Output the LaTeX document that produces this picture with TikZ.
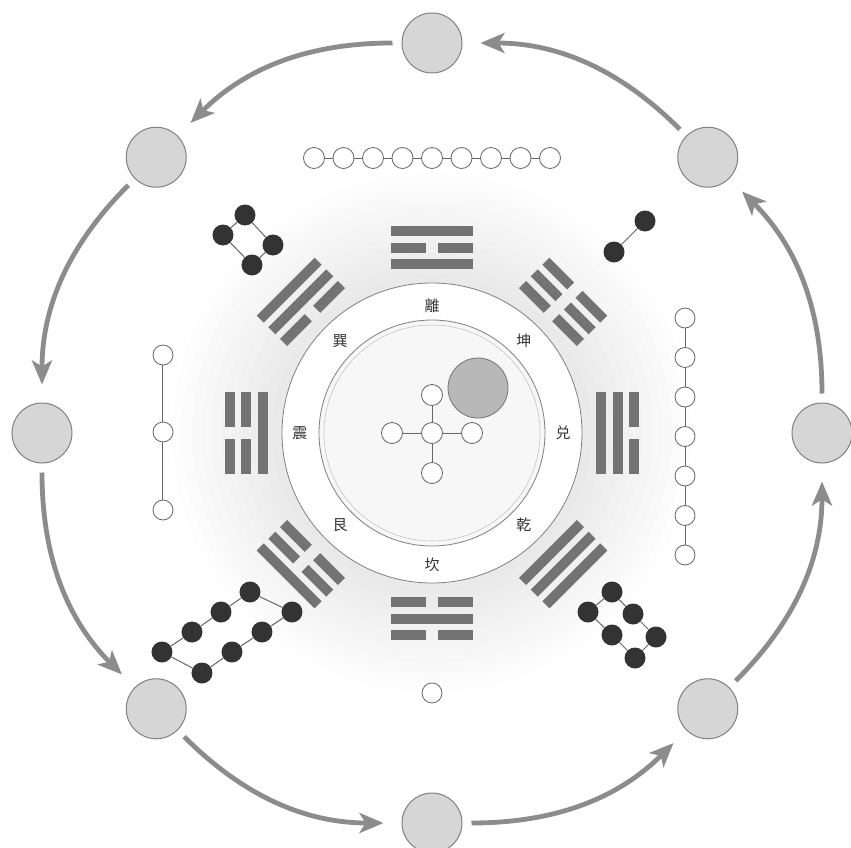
\documentclass[tikz,border=0pt]{standalone}
\usepackage{fontspec}
\newfontfamily\cjk{Noto Sans CJK SC}
\usetikzlibrary{arrows.meta}
\newcommand\myyao[2]{%
  \ifnum#2=1
    \fill[yao] (-41,#1-5) rectangle (41,#1+5);
  \else
    \fill[yao] (-41,#1-5) rectangle (-6,#1+5);
    \fill[yao] (6,#1-5) rectangle (41,#1+5);
  \fi}
\newcommand\mygua[4]{%
  \begin{scope}[rotate=#1-90]
    \myyao{169}{#2}\myyao{185.5}{#3}\myyao{202}{#4}
  \end{scope}}
\begin{document}
\begin{tikzpicture}[x=1pt,y=1pt,
  outercirc/.style={circle, draw=black!50, line width=1pt, fill=black!16, minimum size=60pt, inner sep=0pt},
  flowarrow/.style={draw=black!45, line width=4.8pt, -{Stealth[length=24pt,width=20pt,inset=6pt]}, shorten <=9pt, shorten >=18pt},
  whitedot/.style={circle, draw=black!60, line width=0.8pt, fill=white, minimum size=21pt, inner sep=0pt},
  blackdot/.style={circle, fill=black!80, minimum size=21pt, inner sep=0pt},
  link/.style={draw=black!60, line width=1pt},
  yao/.style={fill=black!55},
  guaname/.style={font=\cjk\fontsize{15}{15}\selectfont, text=black!80, inner sep=0pt},
  ring/.style={draw=black!50, line width=0.8pt}
]
\useasboundingbox (-432,-414) rectangle (419,433);
\fill[white] (-432,-414) rectangle (419,433);

% soft grey cloud
\foreach \r in {160,170,...,260}
  \fill[black, opacity=0.007] (0,0) circle (\r);
\fill[white] (0,0) circle (150);
\fill[black!3] (0,0) circle (113);

% rings
\draw[ring] (0,0) circle (150);
\draw[ring] (0,0) circle (113);
\draw[draw=black!25, line width=0.5pt] (0,0) circle (108);

% outer circles
\foreach \k in {0,...,7}
  \node[outercirc] (o\k) at (90+45*\k:390) {};
% flow arrows (counter-clockwise)
\draw[flowarrow] (o0) to[bend right=22.5] (o1);
\draw[flowarrow] (o1) to[bend right=22.5] (o2);
\draw[flowarrow] (o2) to[bend right=22.5] (o3);
\draw[flowarrow] (o3) to[bend right=22.5] (o4);
\draw[flowarrow] (o4) to[bend right=22.5] (o5);
\draw[flowarrow] (o5) to[bend right=22.5] (o6);
\draw[flowarrow] (o6) to[bend right=22.5] (o7);
\draw[flowarrow] (o7) to[bend right=22.5] (o0);

% trigrams (angle, bottom, middle, top)
\mygua{90}{1}{0}{1}   % Li
\mygua{45}{0}{0}{0}   % Kun
\mygua{0}{1}{1}{0}    % Dui
\mygua{-45}{1}{1}{1}  % Qian
\mygua{-90}{0}{1}{0}  % Kan
\mygua{-135}{0}{0}{1} % Gen
\mygua{180}{1}{0}{0}  % Zhen
\mygua{135}{0}{1}{1}  % Xun

% names
\node[guaname] (tli) at (90:127) {離};
\node[guaname] (tkun) at (45:130) {坤};
\node[guaname] (tdui) at (0:131) {兑};
\node[guaname] (tqian) at (-45:130) {乾};
\node[guaname] (tkan) at (-90:132) {坎};
\node[guaname] (tgen) at (-135:130) {艮};
\node[guaname] (tzhen) at (180:132) {震};
\node[guaname] (txun) at (135:130) {巽};

% big grey disc
\node[circle, draw=black!55, line width=0.8pt, fill=black!28, minimum size=60pt, inner sep=0pt] (sun) at (46,45) {};

% centre: five
\node[whitedot] (c0) at (0,0) {};
\node[whitedot] (c1) at (0,38) {};
\node[whitedot] (c2) at (0,-40) {};
\node[whitedot] (c3) at (-40,0) {};
\node[whitedot] (c4) at (40,0) {};
\foreach \j in {1,...,4} \draw[link] (c0) -- (c\j);

% nine (top)
\foreach \i in {0,...,8}
  \node[whitedot] (n\i) at (-118+29.5*\i,275) {};
\foreach \i [evaluate=\i as \j using int(\i+1)] in {0,...,7}
  \draw[link] (n\i) -- (n\j);

% two (upper right)
\node[blackdot] (b2a) at (182,181) {};
\node[blackdot] (b2b) at (213,212) {};
\draw[link] (b2a) -- (b2b);

% seven (right)
\foreach \i in {0,...,6}
  \node[whitedot, minimum size=20pt] (s\i) at (253,115-39.5*\i) {};
\foreach \i [evaluate=\i as \j using int(\i+1)] in {0,...,5}
  \draw[link] (s\i) -- (s\j);

% six (lower right)
\node[blackdot] (x1) at (156,-179) {};
\node[blackdot] (x2) at (180,-159) {};
\node[blackdot] (x3) at (201,-181) {};
\node[blackdot] (x4) at (224,-204) {};
\node[blackdot] (x5) at (203,-225) {};
\node[blackdot] (x6) at (180,-202) {};
\draw[link] (x1) -- (x2) -- (x3) -- (x4) -- (x5) -- (x6) -- (x1);

% one (bottom)
\node[whitedot, minimum size=20pt] (one) at (0,-260) {};

% eight (lower left)
\node[blackdot] (e1) at (-270,-219) {};
\node[blackdot] (e2) at (-240,-199) {};
\node[blackdot] (e3) at (-211,-179) {};
\node[blackdot] (e4) at (-182,-159) {};
\node[blackdot] (e5) at (-140,-179) {};
\node[blackdot] (e6) at (-170,-199) {};
\node[blackdot] (e7) at (-200,-219) {};
\node[blackdot] (e8) at (-230,-240) {};
\draw[link] (e1) -- (e2) -- (e3) -- (e4) -- (e5) -- (e6) -- (e7) -- (e8) -- (e1);

% three (left)
\node[whitedot, minimum size=20pt] (t1) at (-269,78) {};
\node[whitedot, minimum size=20pt] (t2) at (-269,1) {};
\node[whitedot, minimum size=20pt] (t3) at (-269,-77) {};
\draw[link] (t1) -- (t2) -- (t3);

% four (upper left)
\node[blackdot] (f1) at (-187,218) {};
\node[blackdot] (f2) at (-159,188) {};
\node[blackdot] (f3) at (-180,168) {};
\node[blackdot] (f4) at (-209,198) {};
\draw[link] (f1) -- (f2) -- (f3) -- (f4) -- (f1);
\end{tikzpicture}
\end{document}
